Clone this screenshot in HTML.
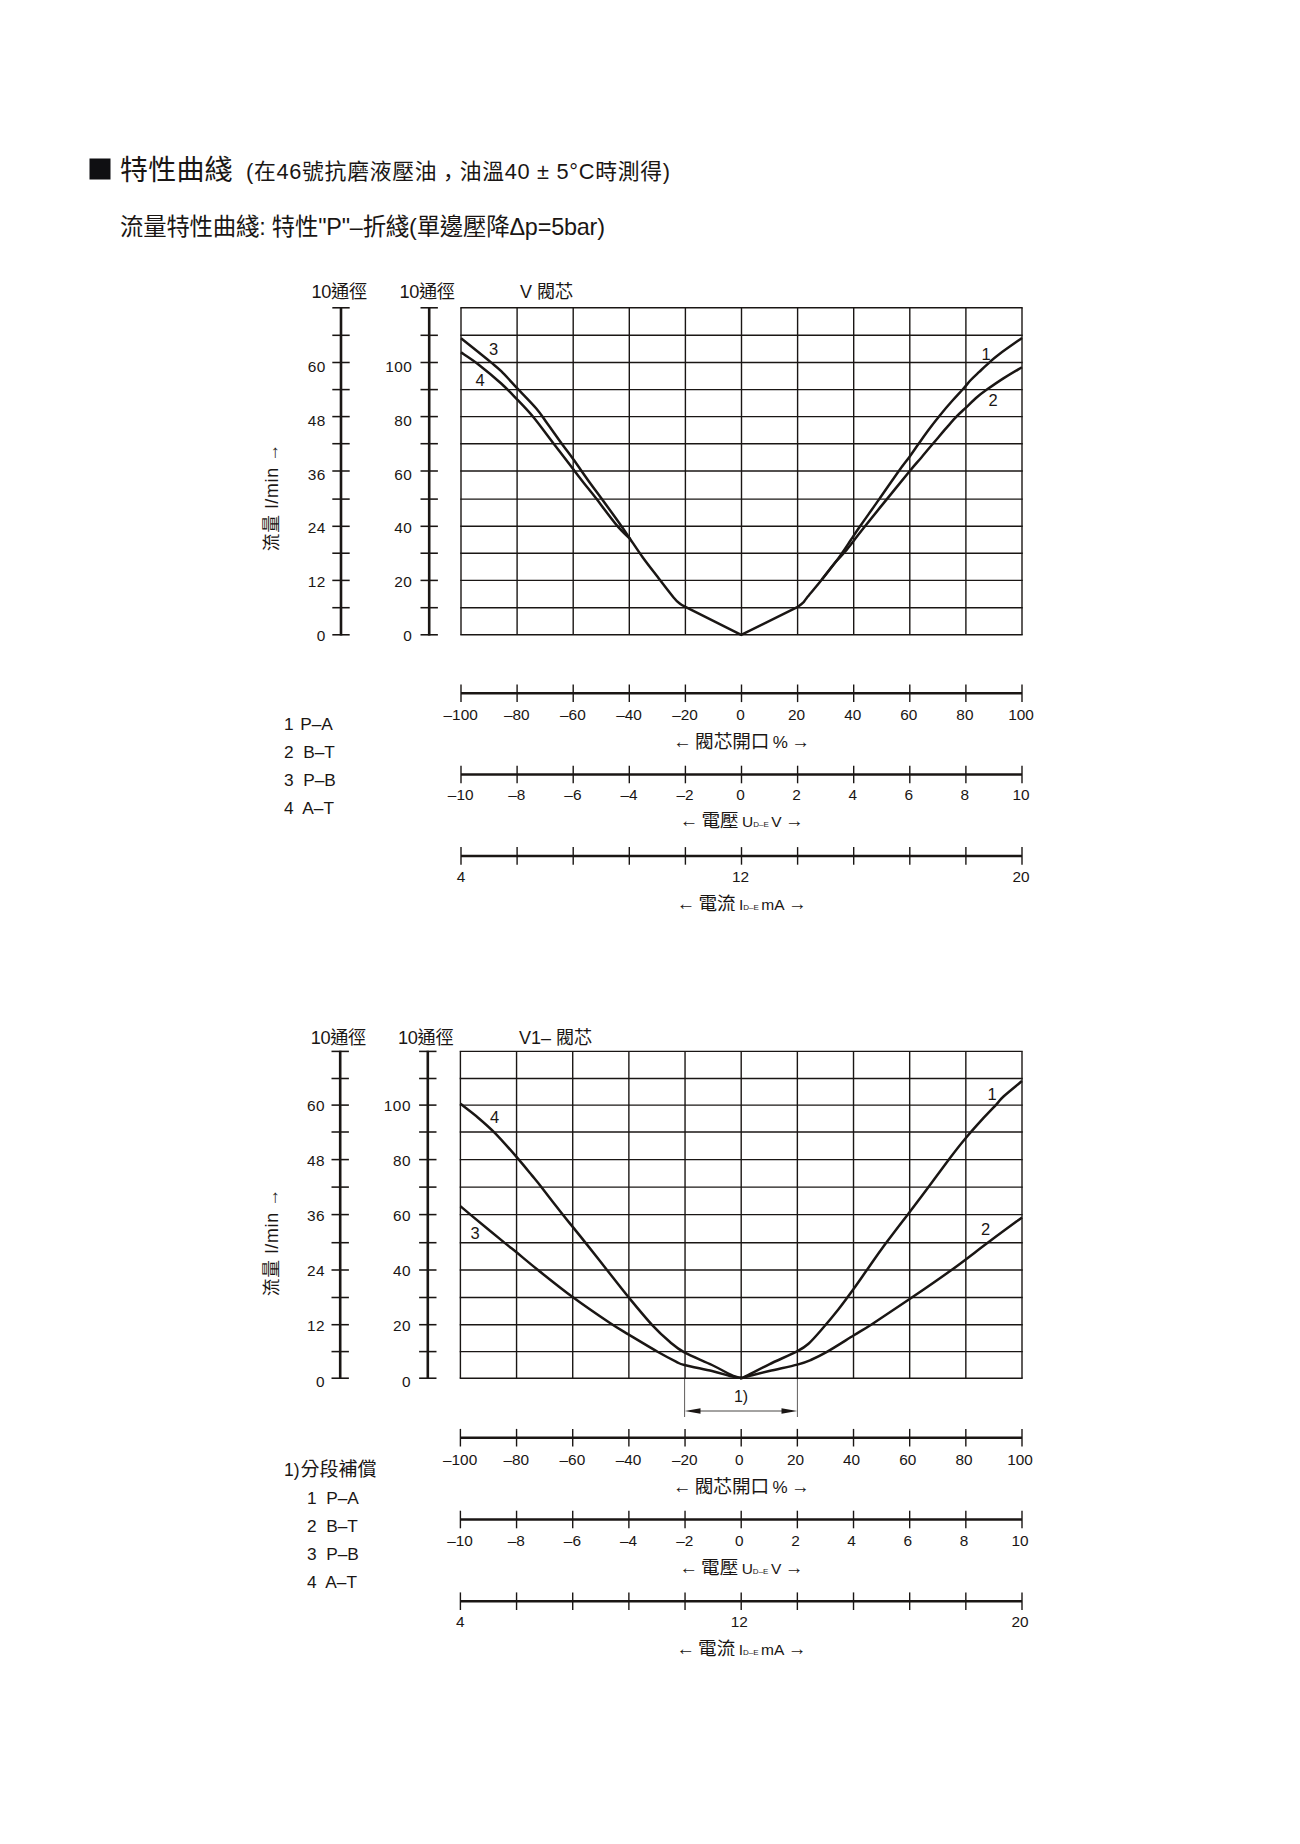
<!DOCTYPE html>
<html lang="zh-Hant"><head><meta charset="utf-8"><title>特性曲綫</title>
<style>html,body{margin:0;padding:0;background:#fff}body{width:1300px;height:1844px;overflow:hidden}svg{display:block}text{font-family:"Liberation Sans", "Noto Sans CJK TC", sans-serif}</style>
</head><body>
<svg width="1300" height="1844" viewBox="0 0 1300 1844">
<rect width="1300" height="1844" fill="#fff"/>
<rect x="89.5" y="158.5" width="21" height="21" fill="#0f0f12"/>
<g fill="#1a1614">
<text x="120" y="179.5" font-size="28" letter-spacing="0.2">特性曲綫</text>
<text x="246" y="179" font-size="21.8" textLength="424">(在46號抗磨液壓油<tspan dy="5.5">，</tspan><tspan dy="-5.5">油溫40 ± 5°C時測得)</tspan></text>
<text x="120" y="234.5" font-size="23.4" textLength="485">流量特性曲綫: 特性"P"–折綫(單邊壓降Δp=5bar)</text>
</g>
<g stroke="#1a1614" fill="none" stroke-linecap="butt">
<line x1="461.00" y1="307.80" x2="461.00" y2="634.80" stroke-width="1.4" />
<line x1="517.10" y1="307.80" x2="517.10" y2="634.80" stroke-width="1.4" />
<line x1="573.20" y1="307.80" x2="573.20" y2="634.80" stroke-width="1.4" />
<line x1="629.30" y1="307.80" x2="629.30" y2="634.80" stroke-width="1.4" />
<line x1="685.40" y1="307.80" x2="685.40" y2="634.80" stroke-width="1.4" />
<line x1="741.50" y1="307.80" x2="741.50" y2="634.80" stroke-width="1.4" />
<line x1="797.60" y1="307.80" x2="797.60" y2="634.80" stroke-width="1.4" />
<line x1="853.70" y1="307.80" x2="853.70" y2="634.80" stroke-width="1.4" />
<line x1="909.80" y1="307.80" x2="909.80" y2="634.80" stroke-width="1.4" />
<line x1="965.90" y1="307.80" x2="965.90" y2="634.80" stroke-width="1.4" />
<line x1="1022.00" y1="307.80" x2="1022.00" y2="634.80" stroke-width="1.4" />
<line x1="460.30" y1="307.80" x2="1022.70" y2="307.80" stroke-width="1.4" />
<line x1="460.30" y1="335.30" x2="1022.70" y2="335.30" stroke-width="1.4" />
<line x1="460.30" y1="362.50" x2="1022.70" y2="362.50" stroke-width="1.4" />
<line x1="460.30" y1="389.60" x2="1022.70" y2="389.60" stroke-width="1.4" />
<line x1="460.30" y1="416.60" x2="1022.70" y2="416.60" stroke-width="1.4" />
<line x1="460.30" y1="443.70" x2="1022.70" y2="443.70" stroke-width="1.4" />
<line x1="460.30" y1="471.00" x2="1022.70" y2="471.00" stroke-width="1.4" />
<line x1="460.30" y1="499.10" x2="1022.70" y2="499.10" stroke-width="1.4" />
<line x1="460.30" y1="526.30" x2="1022.70" y2="526.30" stroke-width="1.4" />
<line x1="460.30" y1="553.20" x2="1022.70" y2="553.20" stroke-width="1.4" />
<line x1="460.30" y1="580.40" x2="1022.70" y2="580.40" stroke-width="1.4" />
<line x1="460.30" y1="607.70" x2="1022.70" y2="607.70" stroke-width="1.4" />
<line x1="460.30" y1="634.80" x2="1022.70" y2="634.80" stroke-width="1.4" />
<line x1="341.00" y1="307.10" x2="341.00" y2="635.50" stroke-width="2.6" />
<line x1="332.30" y1="307.80" x2="349.70" y2="307.80" stroke-width="1.55" />
<line x1="332.30" y1="335.30" x2="349.70" y2="335.30" stroke-width="1.55" />
<line x1="332.30" y1="362.50" x2="349.70" y2="362.50" stroke-width="1.55" />
<line x1="332.30" y1="389.60" x2="349.70" y2="389.60" stroke-width="1.55" />
<line x1="332.30" y1="416.60" x2="349.70" y2="416.60" stroke-width="1.55" />
<line x1="332.30" y1="443.70" x2="349.70" y2="443.70" stroke-width="1.55" />
<line x1="332.30" y1="471.00" x2="349.70" y2="471.00" stroke-width="1.55" />
<line x1="332.30" y1="499.10" x2="349.70" y2="499.10" stroke-width="1.55" />
<line x1="332.30" y1="526.30" x2="349.70" y2="526.30" stroke-width="1.55" />
<line x1="332.30" y1="553.20" x2="349.70" y2="553.20" stroke-width="1.55" />
<line x1="332.30" y1="580.40" x2="349.70" y2="580.40" stroke-width="1.55" />
<line x1="332.30" y1="607.70" x2="349.70" y2="607.70" stroke-width="1.55" />
<line x1="332.30" y1="634.80" x2="349.70" y2="634.80" stroke-width="1.55" />
<line x1="429.20" y1="307.10" x2="429.20" y2="635.50" stroke-width="2.6" />
<line x1="420.50" y1="307.80" x2="437.90" y2="307.80" stroke-width="1.55" />
<line x1="420.50" y1="335.30" x2="437.90" y2="335.30" stroke-width="1.55" />
<line x1="420.50" y1="362.50" x2="437.90" y2="362.50" stroke-width="1.55" />
<line x1="420.50" y1="389.60" x2="437.90" y2="389.60" stroke-width="1.55" />
<line x1="420.50" y1="416.60" x2="437.90" y2="416.60" stroke-width="1.55" />
<line x1="420.50" y1="443.70" x2="437.90" y2="443.70" stroke-width="1.55" />
<line x1="420.50" y1="471.00" x2="437.90" y2="471.00" stroke-width="1.55" />
<line x1="420.50" y1="499.10" x2="437.90" y2="499.10" stroke-width="1.55" />
<line x1="420.50" y1="526.30" x2="437.90" y2="526.30" stroke-width="1.55" />
<line x1="420.50" y1="553.20" x2="437.90" y2="553.20" stroke-width="1.55" />
<line x1="420.50" y1="580.40" x2="437.90" y2="580.40" stroke-width="1.55" />
<line x1="420.50" y1="607.70" x2="437.90" y2="607.70" stroke-width="1.55" />
<line x1="420.50" y1="634.80" x2="437.90" y2="634.80" stroke-width="1.55" />
<line x1="461.00" y1="693.30" x2="1022.00" y2="693.30" stroke-width="2.5" />
<line x1="461.00" y1="684.50" x2="461.00" y2="702.10" stroke-width="1.4" />
<line x1="517.10" y1="684.50" x2="517.10" y2="702.10" stroke-width="1.4" />
<line x1="573.20" y1="684.50" x2="573.20" y2="702.10" stroke-width="1.4" />
<line x1="629.30" y1="684.50" x2="629.30" y2="702.10" stroke-width="1.4" />
<line x1="685.40" y1="684.50" x2="685.40" y2="702.10" stroke-width="1.4" />
<line x1="741.50" y1="684.50" x2="741.50" y2="702.10" stroke-width="1.4" />
<line x1="797.60" y1="684.50" x2="797.60" y2="702.10" stroke-width="1.4" />
<line x1="853.70" y1="684.50" x2="853.70" y2="702.10" stroke-width="1.4" />
<line x1="909.80" y1="684.50" x2="909.80" y2="702.10" stroke-width="1.4" />
<line x1="965.90" y1="684.50" x2="965.90" y2="702.10" stroke-width="1.4" />
<line x1="1022.00" y1="684.50" x2="1022.00" y2="702.10" stroke-width="1.4" />
<line x1="461.00" y1="774.50" x2="1022.00" y2="774.50" stroke-width="2.5" />
<line x1="461.00" y1="765.70" x2="461.00" y2="783.30" stroke-width="1.4" />
<line x1="517.10" y1="765.70" x2="517.10" y2="783.30" stroke-width="1.4" />
<line x1="573.20" y1="765.70" x2="573.20" y2="783.30" stroke-width="1.4" />
<line x1="629.30" y1="765.70" x2="629.30" y2="783.30" stroke-width="1.4" />
<line x1="685.40" y1="765.70" x2="685.40" y2="783.30" stroke-width="1.4" />
<line x1="741.50" y1="765.70" x2="741.50" y2="783.30" stroke-width="1.4" />
<line x1="797.60" y1="765.70" x2="797.60" y2="783.30" stroke-width="1.4" />
<line x1="853.70" y1="765.70" x2="853.70" y2="783.30" stroke-width="1.4" />
<line x1="909.80" y1="765.70" x2="909.80" y2="783.30" stroke-width="1.4" />
<line x1="965.90" y1="765.70" x2="965.90" y2="783.30" stroke-width="1.4" />
<line x1="1022.00" y1="765.70" x2="1022.00" y2="783.30" stroke-width="1.4" />
<line x1="461.00" y1="855.90" x2="1022.00" y2="855.90" stroke-width="2.5" />
<line x1="461.00" y1="847.10" x2="461.00" y2="864.70" stroke-width="1.4" />
<line x1="517.10" y1="847.10" x2="517.10" y2="864.70" stroke-width="1.4" />
<line x1="573.20" y1="847.10" x2="573.20" y2="864.70" stroke-width="1.4" />
<line x1="629.30" y1="847.10" x2="629.30" y2="864.70" stroke-width="1.4" />
<line x1="685.40" y1="847.10" x2="685.40" y2="864.70" stroke-width="1.4" />
<line x1="741.50" y1="847.10" x2="741.50" y2="864.70" stroke-width="1.4" />
<line x1="797.60" y1="847.10" x2="797.60" y2="864.70" stroke-width="1.4" />
<line x1="853.70" y1="847.10" x2="853.70" y2="864.70" stroke-width="1.4" />
<line x1="909.80" y1="847.10" x2="909.80" y2="864.70" stroke-width="1.4" />
<line x1="965.90" y1="847.10" x2="965.90" y2="864.70" stroke-width="1.4" />
<line x1="1022.00" y1="847.10" x2="1022.00" y2="864.70" stroke-width="1.4" />
<path d="M461.0,338.3 C465.9,342.2 483.7,356.4 490.4,361.9 C497.1,367.4 496.7,366.8 501.2,371.2 C505.7,375.6 511.4,382.1 517.3,388.4 C523.2,394.7 531.5,402.9 536.5,408.8 C541.5,414.7 542.9,417.5 547.3,423.5 C551.7,429.5 558.3,439.0 562.7,445.0 C567.1,451.0 568.9,453.2 573.5,459.6 C578.1,466.0 585.7,477.0 590.4,483.5 C595.1,490.0 596.3,491.4 601.5,498.5 C606.7,505.6 616.8,519.5 621.5,526.2 C626.2,532.9 626.4,533.5 630.0,538.7 C633.6,544.0 638.0,550.8 643.0,557.7 C648.0,564.6 654.9,573.3 660.0,580.0 C665.1,586.7 670.5,593.7 673.8,597.7 C677.1,601.7 678.1,602.3 680.0,603.8 C681.9,605.3 684.5,606.4 685.4,606.9 L741.2,634.9 L797.3,607.2" stroke-width="2.5" stroke-linejoin="round"/>
<path d="M461.0,352.4 C463.9,354.4 471.4,359.0 478.1,364.2 C484.8,369.4 494.7,377.6 501.2,383.5 C507.7,389.4 511.9,394.0 517.3,399.6 C522.7,405.2 527.5,410.0 533.5,417.3 C539.5,424.6 546.8,434.8 553.5,443.5 C560.2,452.2 568.4,462.9 573.5,469.6 C578.6,476.3 580.4,478.7 584.2,483.5 C588.0,488.3 590.9,491.6 596.2,498.5 C601.5,505.4 610.6,517.9 616.2,524.6 C621.8,531.3 627.7,536.5 630.0,538.9" stroke-width="2.5" stroke-linejoin="round"/>
<path d="M1022.0,338.0 C1018.2,340.7 1004.5,350.2 999.2,354.2 C993.9,358.2 993.3,358.9 990.0,361.9 C986.7,364.8 982.4,368.9 979.2,371.9 C976.0,374.9 973.4,377.2 970.8,380.0 C968.2,382.8 966.6,385.0 963.5,388.5 C960.4,392.0 956.3,396.2 952.3,400.8 C948.2,405.4 943.2,411.3 939.2,416.2 C935.2,421.1 931.9,425.4 928.5,430.0 C925.1,434.6 922.0,439.0 918.8,443.5 C915.6,448.0 912.8,452.2 909.4,456.9 C906.0,461.5 903.5,464.4 898.5,471.4 C893.5,478.4 885.6,490.0 879.2,499.1 C872.9,508.2 865.1,519.0 860.4,525.8 C855.7,532.6 853.8,535.5 850.8,540.0 C847.8,544.5 844.9,549.0 842.3,552.7 C839.7,556.4 838.9,557.8 835.4,562.3 C831.9,566.8 826.2,574.1 821.5,580.0 C816.8,585.9 810.0,593.9 806.9,597.7 C803.8,601.5 804.7,601.1 803.1,602.7 C801.5,604.3 798.3,606.5 797.3,607.2" stroke-width="2.5" stroke-linejoin="round"/>
<path d="M1022.0,367.2 C1019.0,369.0 1009.6,374.4 1003.8,378.1 C997.9,381.8 991.4,386.4 986.9,389.6 C982.4,392.8 980.5,394.2 976.9,397.3 C973.3,400.4 968.7,405.0 965.4,408.1 C962.1,411.2 960.1,412.9 956.9,416.2 C953.7,419.5 950.2,423.6 946.2,428.1 C942.2,432.7 937.3,438.6 933.1,443.5 C928.9,448.4 925.1,453.1 921.2,457.7 C917.3,462.3 915.5,464.1 909.8,471.0 C904.1,477.9 894.4,489.9 886.9,499.1 C879.4,508.3 870.4,519.5 865.0,526.3 C859.6,533.1 857.6,535.8 854.3,540.0 C851.0,544.2 848.1,548.1 845.0,551.8 C841.9,555.5 839.3,557.6 835.4,562.3 C831.5,567.0 823.8,577.0 821.5,580.0" stroke-width="2.5" stroke-linejoin="round"/>
</g>
<g fill="#1a1614">
<text x="311.60" y="298.00" font-size="18.2" text-anchor="start" textLength="55.5">10通徑</text>
<text x="399.50" y="298.00" font-size="18.2" text-anchor="start" textLength="55.5">10通徑</text>
<text x="520.00" y="298.00" font-size="18" text-anchor="start" >V 閥芯</text>
<text x="325.80" y="640.80" font-size="15.4" text-anchor="end" letter-spacing="0.5">0</text>
<text x="412.40" y="640.80" font-size="15.4" text-anchor="end" letter-spacing="0.5">0</text>
<text x="325.80" y="587.10" font-size="15.4" text-anchor="end" letter-spacing="0.5">12</text>
<text x="412.40" y="587.10" font-size="15.4" text-anchor="end" letter-spacing="0.5">20</text>
<text x="325.80" y="533.40" font-size="15.4" text-anchor="end" letter-spacing="0.5">24</text>
<text x="412.40" y="533.40" font-size="15.4" text-anchor="end" letter-spacing="0.5">40</text>
<text x="325.80" y="479.70" font-size="15.4" text-anchor="end" letter-spacing="0.5">36</text>
<text x="412.40" y="479.70" font-size="15.4" text-anchor="end" letter-spacing="0.5">60</text>
<text x="325.80" y="426.00" font-size="15.4" text-anchor="end" letter-spacing="0.5">48</text>
<text x="412.40" y="426.00" font-size="15.4" text-anchor="end" letter-spacing="0.5">80</text>
<text x="325.80" y="372.30" font-size="15.4" text-anchor="end" letter-spacing="0.5">60</text>
<text x="412.40" y="372.30" font-size="15.4" text-anchor="end" letter-spacing="0.5">100</text>
<text transform="translate(278.4,551.2) rotate(-90)" font-size="17.8" textLength="107.5">流量 l/min →</text>
<text x="493.50" y="355.00" font-size="16.5" text-anchor="middle" >3</text>
<text x="480.00" y="386.00" font-size="16.5" text-anchor="middle" >4</text>
<text x="986.00" y="359.80" font-size="16.5" text-anchor="middle" >1</text>
<text x="993.00" y="406.00" font-size="16.5" text-anchor="middle" >2</text>
<text x="460.70" y="719.70" font-size="15.4" text-anchor="middle" >–100</text>
<text x="460.70" y="800.40" font-size="15.4" text-anchor="middle" >–10</text>
<text x="516.80" y="719.70" font-size="15.4" text-anchor="middle" >–80</text>
<text x="516.80" y="800.40" font-size="15.4" text-anchor="middle" >–8</text>
<text x="572.90" y="719.70" font-size="15.4" text-anchor="middle" >–60</text>
<text x="572.90" y="800.40" font-size="15.4" text-anchor="middle" >–6</text>
<text x="629.00" y="719.70" font-size="15.4" text-anchor="middle" >–40</text>
<text x="629.00" y="800.40" font-size="15.4" text-anchor="middle" >–4</text>
<text x="685.10" y="719.70" font-size="15.4" text-anchor="middle" >–20</text>
<text x="685.10" y="800.40" font-size="15.4" text-anchor="middle" >–2</text>
<text x="740.50" y="719.70" font-size="15.4" text-anchor="middle" >0</text>
<text x="740.50" y="800.40" font-size="15.4" text-anchor="middle" >0</text>
<text x="796.60" y="719.70" font-size="15.4" text-anchor="middle" >20</text>
<text x="796.60" y="800.40" font-size="15.4" text-anchor="middle" >2</text>
<text x="852.70" y="719.70" font-size="15.4" text-anchor="middle" >40</text>
<text x="852.70" y="800.40" font-size="15.4" text-anchor="middle" >4</text>
<text x="908.80" y="719.70" font-size="15.4" text-anchor="middle" >60</text>
<text x="908.80" y="800.40" font-size="15.4" text-anchor="middle" >6</text>
<text x="964.90" y="719.70" font-size="15.4" text-anchor="middle" >80</text>
<text x="964.90" y="800.40" font-size="15.4" text-anchor="middle" >8</text>
<text x="1021.00" y="719.70" font-size="15.4" text-anchor="middle" >100</text>
<text x="1021.00" y="800.40" font-size="15.4" text-anchor="middle" >10</text>
<text x="461.00" y="881.60" font-size="15.4" text-anchor="middle" >4</text>
<text x="740.50" y="881.60" font-size="15.4" text-anchor="middle" >12</text>
<text x="1021.00" y="881.60" font-size="15.4" text-anchor="middle" >20</text>
<text x="741.5" y="747.5" font-size="18.6" word-spacing="-1.8" text-anchor="middle">← 閥芯開口 <tspan font-size="17">%</tspan> →</text>
<text x="741.5" y="827.4" font-size="18.6" word-spacing="-1.8" text-anchor="middle">← 電壓 <tspan font-size="15.5">U</tspan><tspan font-size="8">D–E</tspan><tspan font-size="15.5"> V</tspan> →</text>
<text x="741.5" y="909.7" font-size="18.6" word-spacing="-1.8" text-anchor="middle">← 電流 <tspan font-size="15.5">I</tspan><tspan font-size="8">D–E</tspan><tspan font-size="15.5"> mA</tspan> →</text>
<text x="284.00" y="729.60" font-size="17.3" text-anchor="start" xml:space="preserve">1 <tspan dx="1.8">P–A</tspan></text>
<text x="284.00" y="757.60" font-size="17.3" text-anchor="start" xml:space="preserve">2  B–T</text>
<text x="284.00" y="785.70" font-size="17.3" text-anchor="start" xml:space="preserve">3  P–B</text>
<text x="284.00" y="813.70" font-size="17.3" text-anchor="start" xml:space="preserve">4  A–T</text>
</g>
<g stroke="#1a1614" fill="none" stroke-linecap="butt">
<line x1="460.40" y1="1051.40" x2="460.40" y2="1378.20" stroke-width="1.4" />
<line x1="516.56" y1="1051.40" x2="516.56" y2="1378.20" stroke-width="1.4" />
<line x1="572.72" y1="1051.40" x2="572.72" y2="1378.20" stroke-width="1.4" />
<line x1="628.88" y1="1051.40" x2="628.88" y2="1378.20" stroke-width="1.4" />
<line x1="685.04" y1="1051.40" x2="685.04" y2="1378.20" stroke-width="1.4" />
<line x1="741.20" y1="1051.40" x2="741.20" y2="1378.20" stroke-width="1.4" />
<line x1="797.36" y1="1051.40" x2="797.36" y2="1378.20" stroke-width="1.4" />
<line x1="853.52" y1="1051.40" x2="853.52" y2="1378.20" stroke-width="1.4" />
<line x1="909.68" y1="1051.40" x2="909.68" y2="1378.20" stroke-width="1.4" />
<line x1="965.84" y1="1051.40" x2="965.84" y2="1378.20" stroke-width="1.4" />
<line x1="1022.00" y1="1051.40" x2="1022.00" y2="1378.20" stroke-width="1.4" />
<line x1="459.70" y1="1051.40" x2="1022.70" y2="1051.40" stroke-width="1.4" />
<line x1="459.70" y1="1078.50" x2="1022.70" y2="1078.50" stroke-width="1.4" />
<line x1="459.70" y1="1105.10" x2="1022.70" y2="1105.10" stroke-width="1.4" />
<line x1="459.70" y1="1132.00" x2="1022.70" y2="1132.00" stroke-width="1.4" />
<line x1="459.70" y1="1159.60" x2="1022.70" y2="1159.60" stroke-width="1.4" />
<line x1="459.70" y1="1187.10" x2="1022.70" y2="1187.10" stroke-width="1.4" />
<line x1="459.70" y1="1214.60" x2="1022.70" y2="1214.60" stroke-width="1.4" />
<line x1="459.70" y1="1242.70" x2="1022.70" y2="1242.70" stroke-width="1.4" />
<line x1="459.70" y1="1270.00" x2="1022.70" y2="1270.00" stroke-width="1.4" />
<line x1="459.70" y1="1297.50" x2="1022.70" y2="1297.50" stroke-width="1.4" />
<line x1="459.70" y1="1324.70" x2="1022.70" y2="1324.70" stroke-width="1.4" />
<line x1="459.70" y1="1351.60" x2="1022.70" y2="1351.60" stroke-width="1.4" />
<line x1="459.70" y1="1378.20" x2="1022.70" y2="1378.20" stroke-width="1.4" />
<line x1="340.20" y1="1050.70" x2="340.20" y2="1378.90" stroke-width="2.6" />
<line x1="331.50" y1="1051.40" x2="348.90" y2="1051.40" stroke-width="1.55" />
<line x1="331.50" y1="1078.50" x2="348.90" y2="1078.50" stroke-width="1.55" />
<line x1="331.50" y1="1105.10" x2="348.90" y2="1105.10" stroke-width="1.55" />
<line x1="331.50" y1="1132.00" x2="348.90" y2="1132.00" stroke-width="1.55" />
<line x1="331.50" y1="1159.60" x2="348.90" y2="1159.60" stroke-width="1.55" />
<line x1="331.50" y1="1187.10" x2="348.90" y2="1187.10" stroke-width="1.55" />
<line x1="331.50" y1="1214.60" x2="348.90" y2="1214.60" stroke-width="1.55" />
<line x1="331.50" y1="1242.70" x2="348.90" y2="1242.70" stroke-width="1.55" />
<line x1="331.50" y1="1270.00" x2="348.90" y2="1270.00" stroke-width="1.55" />
<line x1="331.50" y1="1297.50" x2="348.90" y2="1297.50" stroke-width="1.55" />
<line x1="331.50" y1="1324.70" x2="348.90" y2="1324.70" stroke-width="1.55" />
<line x1="331.50" y1="1351.60" x2="348.90" y2="1351.60" stroke-width="1.55" />
<line x1="331.50" y1="1378.20" x2="348.90" y2="1378.20" stroke-width="1.55" />
<line x1="427.80" y1="1050.70" x2="427.80" y2="1378.90" stroke-width="2.6" />
<line x1="419.10" y1="1051.40" x2="436.50" y2="1051.40" stroke-width="1.55" />
<line x1="419.10" y1="1078.50" x2="436.50" y2="1078.50" stroke-width="1.55" />
<line x1="419.10" y1="1105.10" x2="436.50" y2="1105.10" stroke-width="1.55" />
<line x1="419.10" y1="1132.00" x2="436.50" y2="1132.00" stroke-width="1.55" />
<line x1="419.10" y1="1159.60" x2="436.50" y2="1159.60" stroke-width="1.55" />
<line x1="419.10" y1="1187.10" x2="436.50" y2="1187.10" stroke-width="1.55" />
<line x1="419.10" y1="1214.60" x2="436.50" y2="1214.60" stroke-width="1.55" />
<line x1="419.10" y1="1242.70" x2="436.50" y2="1242.70" stroke-width="1.55" />
<line x1="419.10" y1="1270.00" x2="436.50" y2="1270.00" stroke-width="1.55" />
<line x1="419.10" y1="1297.50" x2="436.50" y2="1297.50" stroke-width="1.55" />
<line x1="419.10" y1="1324.70" x2="436.50" y2="1324.70" stroke-width="1.55" />
<line x1="419.10" y1="1351.60" x2="436.50" y2="1351.60" stroke-width="1.55" />
<line x1="419.10" y1="1378.20" x2="436.50" y2="1378.20" stroke-width="1.55" />
<line x1="460.40" y1="1437.70" x2="1022.00" y2="1437.70" stroke-width="2.5" />
<line x1="460.40" y1="1428.90" x2="460.40" y2="1446.50" stroke-width="1.4" />
<line x1="516.56" y1="1428.90" x2="516.56" y2="1446.50" stroke-width="1.4" />
<line x1="572.72" y1="1428.90" x2="572.72" y2="1446.50" stroke-width="1.4" />
<line x1="628.88" y1="1428.90" x2="628.88" y2="1446.50" stroke-width="1.4" />
<line x1="685.04" y1="1428.90" x2="685.04" y2="1446.50" stroke-width="1.4" />
<line x1="741.20" y1="1428.90" x2="741.20" y2="1446.50" stroke-width="1.4" />
<line x1="797.36" y1="1428.90" x2="797.36" y2="1446.50" stroke-width="1.4" />
<line x1="853.52" y1="1428.90" x2="853.52" y2="1446.50" stroke-width="1.4" />
<line x1="909.68" y1="1428.90" x2="909.68" y2="1446.50" stroke-width="1.4" />
<line x1="965.84" y1="1428.90" x2="965.84" y2="1446.50" stroke-width="1.4" />
<line x1="1022.00" y1="1428.90" x2="1022.00" y2="1446.50" stroke-width="1.4" />
<line x1="460.40" y1="1519.50" x2="1022.00" y2="1519.50" stroke-width="2.5" />
<line x1="460.40" y1="1510.70" x2="460.40" y2="1528.30" stroke-width="1.4" />
<line x1="516.56" y1="1510.70" x2="516.56" y2="1528.30" stroke-width="1.4" />
<line x1="572.72" y1="1510.70" x2="572.72" y2="1528.30" stroke-width="1.4" />
<line x1="628.88" y1="1510.70" x2="628.88" y2="1528.30" stroke-width="1.4" />
<line x1="685.04" y1="1510.70" x2="685.04" y2="1528.30" stroke-width="1.4" />
<line x1="741.20" y1="1510.70" x2="741.20" y2="1528.30" stroke-width="1.4" />
<line x1="797.36" y1="1510.70" x2="797.36" y2="1528.30" stroke-width="1.4" />
<line x1="853.52" y1="1510.70" x2="853.52" y2="1528.30" stroke-width="1.4" />
<line x1="909.68" y1="1510.70" x2="909.68" y2="1528.30" stroke-width="1.4" />
<line x1="965.84" y1="1510.70" x2="965.84" y2="1528.30" stroke-width="1.4" />
<line x1="1022.00" y1="1510.70" x2="1022.00" y2="1528.30" stroke-width="1.4" />
<line x1="460.40" y1="1601.20" x2="1022.00" y2="1601.20" stroke-width="2.5" />
<line x1="460.40" y1="1592.40" x2="460.40" y2="1610.00" stroke-width="1.4" />
<line x1="516.56" y1="1592.40" x2="516.56" y2="1610.00" stroke-width="1.4" />
<line x1="572.72" y1="1592.40" x2="572.72" y2="1610.00" stroke-width="1.4" />
<line x1="628.88" y1="1592.40" x2="628.88" y2="1610.00" stroke-width="1.4" />
<line x1="685.04" y1="1592.40" x2="685.04" y2="1610.00" stroke-width="1.4" />
<line x1="741.20" y1="1592.40" x2="741.20" y2="1610.00" stroke-width="1.4" />
<line x1="797.36" y1="1592.40" x2="797.36" y2="1610.00" stroke-width="1.4" />
<line x1="853.52" y1="1592.40" x2="853.52" y2="1610.00" stroke-width="1.4" />
<line x1="909.68" y1="1592.40" x2="909.68" y2="1610.00" stroke-width="1.4" />
<line x1="965.84" y1="1592.40" x2="965.84" y2="1610.00" stroke-width="1.4" />
<line x1="1022.00" y1="1592.40" x2="1022.00" y2="1610.00" stroke-width="1.4" />
<path d="M460.4,1103.8 C463.3,1106.1 472.3,1112.8 478.1,1117.7 C483.9,1122.6 488.6,1126.6 495.0,1133.1 C501.4,1139.6 510.4,1149.9 516.5,1156.9 C522.6,1164.0 527.7,1170.3 531.9,1175.4 C536.1,1180.5 536.8,1181.2 541.9,1187.7 C547.0,1194.2 557.6,1208.1 562.7,1214.6 C567.8,1221.1 568.9,1222.2 572.7,1226.9 C576.6,1231.7 580.1,1235.9 585.8,1243.1 C591.5,1250.3 599.9,1261.0 607.0,1270.0 C614.1,1279.0 620.9,1287.9 628.4,1297.0 C635.9,1306.1 645.1,1317.3 652.0,1324.8 C658.9,1332.3 664.6,1337.4 670.0,1342.0 C675.4,1346.6 677.4,1348.6 684.4,1352.4 C691.4,1356.2 704.4,1361.3 712.0,1365.0 C719.6,1368.7 725.7,1372.3 730.0,1374.4 C734.3,1376.5 736.2,1376.8 738.0,1377.4 C739.8,1378.0 740.5,1377.7 741.0,1377.8" stroke-width="2.5" stroke-linejoin="round"/>
<path d="M460.4,1206.2 C462.1,1207.6 463.0,1208.4 470.4,1214.6 C477.8,1220.8 497.3,1236.8 505.0,1243.1 C512.7,1249.4 511.0,1247.8 516.5,1252.3 C522.0,1256.8 528.6,1262.5 538.0,1270.0 C547.4,1277.5 560.6,1288.2 572.6,1297.0 C584.6,1305.8 600.7,1316.8 610.0,1323.0 C619.3,1329.2 620.4,1329.6 628.4,1334.4 C636.4,1339.2 650.1,1347.5 658.0,1352.0 C665.9,1356.5 671.6,1359.4 676.0,1361.6 C680.4,1363.8 678.4,1363.4 684.4,1365.0 C690.4,1366.6 704.4,1369.2 712.0,1371.0 C719.6,1372.8 725.7,1374.9 730.0,1376.0 C734.3,1377.1 736.2,1377.3 738.0,1377.6 C739.8,1377.9 740.5,1377.8 741.0,1377.8" stroke-width="2.5" stroke-linejoin="round"/>
<path d="M741.0,1377.8 C741.5,1377.7 739.3,1379.5 744.0,1377.2 C748.7,1375.0 760.3,1368.6 769.2,1364.3 C778.1,1360.0 790.9,1354.6 797.4,1351.2 C803.9,1347.8 804.4,1347.5 808.5,1343.8 C812.6,1340.1 817.3,1334.6 822.3,1328.8 C827.3,1323.0 833.2,1315.9 838.5,1309.2 C843.8,1302.5 848.9,1295.4 853.9,1288.5 C858.9,1281.6 863.6,1274.6 868.5,1267.7 C873.4,1260.8 876.3,1256.2 883.1,1247.0 C889.9,1237.8 901.9,1222.2 909.5,1212.2 C917.1,1202.2 922.0,1195.6 928.5,1186.9 C935.0,1178.2 942.4,1168.1 948.5,1160.0 C954.6,1151.9 959.5,1145.5 965.4,1138.5 C971.3,1131.5 978.5,1123.5 983.8,1117.7 C989.0,1111.9 993.6,1107.4 996.9,1103.8 C1000.2,1100.2 999.6,1100.0 1003.8,1096.2 C1008.0,1092.4 1019.0,1083.5 1022.0,1081.0" stroke-width="2.5" stroke-linejoin="round"/>
<path d="M741.0,1377.8 C741.5,1377.7 739.3,1378.5 744.0,1377.4 C748.7,1376.3 760.3,1373.1 769.2,1371.0 C778.1,1368.9 790.5,1366.4 797.4,1364.6 C804.3,1362.8 805.9,1362.1 810.8,1360.0 C815.7,1357.9 819.7,1356.0 826.9,1351.9 C834.1,1347.8 846.4,1339.9 853.9,1335.3 C861.4,1330.7 862.5,1330.3 871.9,1324.2 C881.2,1318.1 896.7,1307.8 910.0,1298.8 C923.3,1289.8 938.1,1279.7 951.5,1270.0 C964.9,1260.3 978.6,1249.5 990.4,1240.8 C1002.1,1232.0 1016.7,1221.4 1022.0,1217.5" stroke-width="2.5" stroke-linejoin="round"/>
</g>
<g fill="#1a1614">
<text x="310.80" y="1044.00" font-size="18.2" text-anchor="start" textLength="55.5">10通徑</text>
<text x="398.10" y="1044.00" font-size="18.2" text-anchor="start" textLength="55.5">10通徑</text>
<text x="519.00" y="1044.00" font-size="18" text-anchor="start" >V1– 閥芯</text>
<text x="325.00" y="1386.50" font-size="15.4" text-anchor="end" letter-spacing="0.5">0</text>
<text x="411.00" y="1386.50" font-size="15.4" text-anchor="end" letter-spacing="0.5">0</text>
<text x="325.00" y="1331.35" font-size="15.4" text-anchor="end" letter-spacing="0.5">12</text>
<text x="411.00" y="1331.35" font-size="15.4" text-anchor="end" letter-spacing="0.5">20</text>
<text x="325.00" y="1276.20" font-size="15.4" text-anchor="end" letter-spacing="0.5">24</text>
<text x="411.00" y="1276.20" font-size="15.4" text-anchor="end" letter-spacing="0.5">40</text>
<text x="325.00" y="1221.05" font-size="15.4" text-anchor="end" letter-spacing="0.5">36</text>
<text x="411.00" y="1221.05" font-size="15.4" text-anchor="end" letter-spacing="0.5">60</text>
<text x="325.00" y="1165.90" font-size="15.4" text-anchor="end" letter-spacing="0.5">48</text>
<text x="411.00" y="1165.90" font-size="15.4" text-anchor="end" letter-spacing="0.5">80</text>
<text x="325.00" y="1110.75" font-size="15.4" text-anchor="end" letter-spacing="0.5">60</text>
<text x="411.00" y="1110.75" font-size="15.4" text-anchor="end" letter-spacing="0.5">100</text>
<text transform="translate(277.6,1296.2) rotate(-90)" font-size="17.8" textLength="107.5">流量 l/min →</text>
<text x="494.70" y="1123.00" font-size="16.5" text-anchor="middle" >4</text>
<text x="475.00" y="1239.30" font-size="16.5" text-anchor="middle" >3</text>
<text x="992.20" y="1100.30" font-size="16.5" text-anchor="middle" >1</text>
<text x="985.60" y="1235.40" font-size="16.5" text-anchor="middle" >2</text>
<text x="460.10" y="1465.40" font-size="15.4" text-anchor="middle" >–100</text>
<text x="460.10" y="1545.90" font-size="15.4" text-anchor="middle" >–10</text>
<text x="516.26" y="1465.40" font-size="15.4" text-anchor="middle" >–80</text>
<text x="516.26" y="1545.90" font-size="15.4" text-anchor="middle" >–8</text>
<text x="572.42" y="1465.40" font-size="15.4" text-anchor="middle" >–60</text>
<text x="572.42" y="1545.90" font-size="15.4" text-anchor="middle" >–6</text>
<text x="628.58" y="1465.40" font-size="15.4" text-anchor="middle" >–40</text>
<text x="628.58" y="1545.90" font-size="15.4" text-anchor="middle" >–4</text>
<text x="684.74" y="1465.40" font-size="15.4" text-anchor="middle" >–20</text>
<text x="684.74" y="1545.90" font-size="15.4" text-anchor="middle" >–2</text>
<text x="739.30" y="1465.40" font-size="15.4" text-anchor="middle" >0</text>
<text x="739.30" y="1545.90" font-size="15.4" text-anchor="middle" >0</text>
<text x="795.46" y="1465.40" font-size="15.4" text-anchor="middle" >20</text>
<text x="795.46" y="1545.90" font-size="15.4" text-anchor="middle" >2</text>
<text x="851.62" y="1465.40" font-size="15.4" text-anchor="middle" >40</text>
<text x="851.62" y="1545.90" font-size="15.4" text-anchor="middle" >4</text>
<text x="907.78" y="1465.40" font-size="15.4" text-anchor="middle" >60</text>
<text x="907.78" y="1545.90" font-size="15.4" text-anchor="middle" >6</text>
<text x="963.94" y="1465.40" font-size="15.4" text-anchor="middle" >80</text>
<text x="963.94" y="1545.90" font-size="15.4" text-anchor="middle" >8</text>
<text x="1020.10" y="1465.40" font-size="15.4" text-anchor="middle" >100</text>
<text x="1020.10" y="1545.90" font-size="15.4" text-anchor="middle" >10</text>
<text x="460.40" y="1627.40" font-size="15.4" text-anchor="middle" >4</text>
<text x="739.30" y="1627.40" font-size="15.4" text-anchor="middle" >12</text>
<text x="1020.10" y="1627.40" font-size="15.4" text-anchor="middle" >20</text>
<text x="741.2" y="1493.2" font-size="18.6" word-spacing="-1.8" text-anchor="middle">← 閥芯開口 <tspan font-size="17">%</tspan> →</text>
<text x="741.2" y="1573.7" font-size="18.6" word-spacing="-1.8" text-anchor="middle">← 電壓 <tspan font-size="15.5">U</tspan><tspan font-size="8">D–E</tspan><tspan font-size="15.5"> V</tspan> →</text>
<text x="741.2" y="1655.0" font-size="18.6" word-spacing="-1.8" text-anchor="middle">← 電流 <tspan font-size="15.5">I</tspan><tspan font-size="8">D–E</tspan><tspan font-size="15.5"> mA</tspan> →</text>
<text x="284.00" y="1476.30" font-size="17.5" text-anchor="start" xml:space="preserve">1)<tspan dx="-4.4" font-size="19"> 分段補償</tspan></text>
<text x="307.00" y="1504.00" font-size="17.3" text-anchor="start" xml:space="preserve">1  P–A</text>
<text x="307.00" y="1532.00" font-size="17.3" text-anchor="start" xml:space="preserve">2  B–T</text>
<text x="307.00" y="1560.00" font-size="17.3" text-anchor="start" xml:space="preserve">3  P–B</text>
<text x="307.00" y="1588.00" font-size="17.3" text-anchor="start" xml:space="preserve">4  A–T</text>
</g>
<g stroke="#1a1614" fill="#1a1614">
<line x1="684.6" y1="1378" x2="684.6" y2="1417" stroke-width="0.7"/>
<line x1="797.4" y1="1378" x2="797.4" y2="1417" stroke-width="0.7"/>
<line x1="690" y1="1411" x2="792" y2="1411" stroke-width="0.8"/>
<path d="M684.8,1411 L700.5,1408.2 L700.5,1413.8 Z" stroke="none"/>
<path d="M797.2,1411 L781.5,1408.2 L781.5,1413.8 Z" stroke="none"/>
</g>
<text x="741" y="1402.3" font-size="16" text-anchor="middle" fill="#1a1614">1)</text>
</svg></body></html>
